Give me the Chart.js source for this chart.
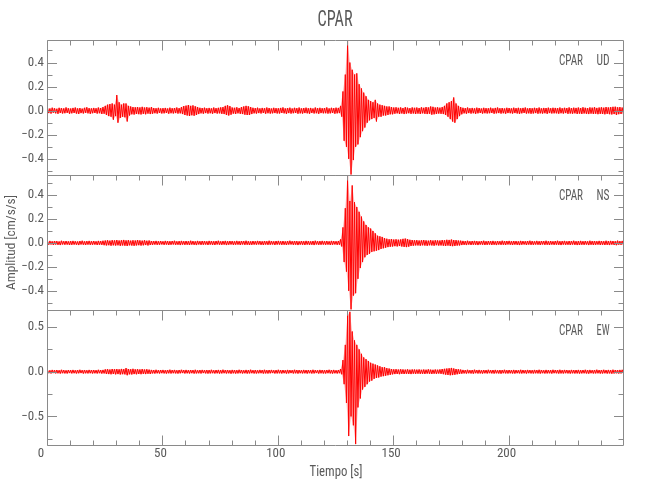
<!DOCTYPE html>
<html><head><meta charset="utf-8">
<script src="https://cdn.jsdelivr.net/npm/chart.js@4"></script>
<style>html,body{margin:0;padding:0;background:#fff;}canvas{display:block}</style>
</head><body>
<canvas id="c" width="650" height="500"></canvas>
<script>
const station = 'CPAR';
const components = ['UD', 'NS', 'EW'];
const titleX = 'Tiempo [s]';
const titleY = 'Amplitud [cm/s/s]';

// per-second envelope readings (max, min) of each trace, cm/s/s
const udHi = [
.022,.018,.025,.020,.016,.024,.021,.019,.027,.020, .018,.023,.026,.019,.022,.017,.024,.028,.021,.019,
.023,.020,.026,.022,.030,.040,.050,.055,.060,.050, .130,.070,.050,.060,.060,.040,.035,.030,.028,.030,
.027,.032,.026,.029,.025,.030,.022,.020,.024,.019, .021,.023,.018,.025,.020,.022,.026,.021,.030,.038,
.042,.047,.040,.044,.036,.030,.024,.022,.025,.020, .023,.019,.026,.021,.024,.027,.030,.040,.045,.038,
.026,.024,.028,.022,.030,.035,.040,.036,.030,.024, .021,.025,.019,.023,.020,.026,.022,.018,.024,.021,
.020,.023,.027,.019,.022,.025,.018,.024,.021,.026, .019,.022,.025,.020,.023,.018,.026,.021,.024,.020,
.022,.027,.019,.024,.021,.025,.023,.040,.160,.300, .585,.400,.340,.300,.310,.220,.185,.150,.120,.090,
.080,.070,.090,.060,.050,.045,.040,.035,.035,.030, .026,.028,.024,.027,.022,.029,.025,.021,.027,.024,
.026,.022,.028,.024,.030,.027,.035,.032,.026,.028, .025,.030,.040,.060,.070,.080,.110,.060,.040,.030,
.024,.021,.026,.020,.023,.019,.025,.022,.018,.024, .021,.020,.025,.019,.023,.026,.020,.022,.018,.024,
.022,.019,.025,.021,.024,.020,.023,.026,.019,.022, .020,.024,.021,.026,.019,.023,.022,.025,.020,.024,
.023,.021,.026,.020,.024,.022,.027,.021,.025,.023, .026,.022,.028,.024,.021,.027,.025,.029,.023,.026,
.028,.025,.030,.027,.029,.032,.033,.028,.030,.026];
const udLo = [
-.020,-.024,-.017,-.022,-.026,-.019,-.023,-.021,-.018,-.025, -.022,-.019,-.024,-.027,-.020,-.023,-.018,-.022,-.026,-.021,
-.019,-.024,-.021,-.027,-.025,-.035,-.045,-.050,-.075,-.045, -.100,-.060,-.050,-.055,-.090,-.040,-.030,-.032,-.027,-.029,
-.031,-.026,-.030,-.024,-.028,-.025,-.021,-.024,-.019,-.023, -.022,-.019,-.025,-.021,-.023,-.020,-.024,-.022,-.028,-.036,
-.040,-.044,-.038,-.042,-.035,-.028,-.022,-.025,-.020,-.024, -.021,-.025,-.020,-.024,-.022,-.026,-.028,-.036,-.040,-.033,
-.024,-.027,-.022,-.026,-.028,-.033,-.036,-.035,-.028,-.022, -.024,-.020,-.023,-.019,-.025,-.021,-.024,-.022,-.020,-.023,
-.023,-.019,-.022,-.026,-.020,-.024,-.021,-.019,-.025,-.022, -.024,-.020,-.022,-.025,-.019,-.023,-.021,-.026,-.020,-.022,
-.021,-.024,-.022,-.019,-.025,-.022,-.020,-.050,-.250,-.300, -.400,-.530,-.410,-.300,-.280,-.220,-.170,-.140,-.100,-.080,
-.070,-.060,-.090,-.050,-.050,-.040,-.040,-.035,-.030,-.030, -.025,-.022,-.027,-.023,-.028,-.024,-.021,-.026,-.023,-.027,
-.024,-.027,-.022,-.026,-.028,-.025,-.033,-.030,-.027,-.024, -.026,-.028,-.035,-.050,-.070,-.090,-.100,-.070,-.045,-.030,
-.022,-.025,-.020,-.024,-.021,-.026,-.022,-.019,-.024,-.021, -.023,-.021,-.019,-.025,-.022,-.020,-.024,-.021,-.025,-.020,
-.021,-.024,-.020,-.023,-.026,-.022,-.019,-.024,-.022,-.025, -.023,-.020,-.025,-.022,-.024,-.021,-.026,-.020,-.023,-.022,
-.022,-.025,-.021,-.024,-.020,-.026,-.023,-.025,-.022,-.027, -.024,-.027,-.023,-.026,-.028,-.024,-.027,-.025,-.029,-.026,
-.027,-.030,-.026,-.029,-.031,-.028,-.035,-.029,-.027,-.030];
const nsHi = [
.014,.017,.013,.016,.015,.012,.018,.014,.016,.013, .015,.017,.014,.012,.016,.018,.013,.015,.017,.014,
.016,.013,.017,.015,.018,.020,.022,.019,.023,.021, .024,.020,.022,.025,.021,.023,.019,.022,.020,.024,
.021,.019,.022,.018,.020,.016,.015,.017,.014,.016, .013,.017,.015,.014,.016,.018,.013,.015,.017,.014,
.016,.014,.018,.015,.013,.017,.014,.016,.015,.013, .017,.015,.014,.016,.018,.013,.015,.017,.014,.016,
.015,.013,.017,.014,.016,.015,.018,.014,.013,.016, .014,.017,.015,.013,.016,.014,.018,.015,.013,.016,
.017,.014,.016,.013,.015,.018,.014,.016,.015,.013, .016,.014,.017,.015,.013,.016,.018,.014,.015,.017,
.014,.016,.013,.017,.015,.014,.016,.030,.130,.290, .560,.350,.480,.340,.300,.260,.220,.180,.150,.130,
.120,.100,.080,.060,.055,.050,.040,.035,.030,.032, .028,.030,.027,.029,.034,.036,.032,.026,.024,.022,
.023,.020,.022,.024,.021,.019,.023,.020,.022,.021, .020,.024,.022,.026,.025,.028,.024,.023,.020,.019,
.017,.015,.018,.014,.016,.017,.015,.013,.016,.018, .014,.016,.015,.017,.013,.016,.014,.018,.015,.016,
.017,.014,.016,.015,.013,.017,.015,.014,.016,.018, .015,.013,.017,.014,.016,.015,.018,.014,.016,.013,
.016,.018,.014,.015,.017,.013,.016,.015,.018,.014, .015,.017,.014,.016,.013,.018,.015,.016,.014,.017,
.016,.014,.018,.015,.017,.016,.014,.019,.015,.017];
const nsLo = [
-.015,-.013,-.017,-.014,-.016,-.018,-.013,-.015,-.014,-.017, -.016,-.014,-.015,-.018,-.013,-.015,-.017,-.014,-.016,-.015,
-.014,-.017,-.015,-.016,-.019,-.021,-.019,-.023,-.020,-.022, -.020,-.024,-.021,-.023,-.025,-.020,-.022,-.024,-.021,-.019,
-.022,-.020,-.018,-.021,-.017,-.016,-.014,-.016,-.015,-.013, -.016,-.014,-.017,-.015,-.013,-.016,-.015,-.018,-.014,-.016,
-.015,-.017,-.014,-.016,-.018,-.013,-.016,-.015,-.014,-.017, -.014,-.016,-.017,-.013,-.015,-.016,-.014,-.018,-.015,-.013,
-.016,-.015,-.014,-.017,-.013,-.016,-.015,-.017,-.016,-.014, -.015,-.013,-.016,-.017,-.014,-.016,-.015,-.013,-.017,-.014,
-.014,-.016,-.015,-.017,-.014,-.013,-.016,-.015,-.018,-.014, -.015,-.017,-.014,-.016,-.015,-.018,-.013,-.016,-.015,-.014,
-.016,-.014,-.017,-.015,-.013,-.016,-.015,-.030,-.160,-.240, -.400,-.555,-.440,-.420,-.300,-.210,-.160,-.120,-.100,-.090,
-.075,-.070,-.065,-.060,-.050,-.045,-.040,-.035,-.032,-.030, -.027,-.029,-.026,-.030,-.033,-.035,-.031,-.025,-.023,-.021,
-.021,-.023,-.020,-.022,-.024,-.020,-.021,-.023,-.019,-.022, -.021,-.023,-.025,-.022,-.026,-.027,-.025,-.022,-.021,-.018,
-.016,-.018,-.014,-.017,-.015,-.016,-.018,-.014,-.015,-.017, -.016,-.014,-.017,-.015,-.018,-.014,-.016,-.015,-.017,-.013,
-.015,-.017,-.014,-.016,-.018,-.015,-.013,-.017,-.014,-.016, -.016,-.014,-.015,-.017,-.013,-.016,-.015,-.017,-.014,-.016,
-.015,-.016,-.018,-.014,-.016,-.015,-.017,-.014,-.016,-.018, -.017,-.015,-.016,-.014,-.018,-.015,-.017,-.016,-.014,-.017,
-.015,-.017,-.016,-.018,-.014,-.017,-.019,-.015,-.016,-.018];
const ewHi = [
.018,.015,.020,.017,.019,.016,.021,.018,.015,.019, .017,.020,.016,.018,.021,.017,.019,.016,.020,.018,
.019,.017,.021,.018,.020,.026,.028,.024,.030,.027, .029,.026,.031,.028,.040,.030,.027,.032,.026,.028,
.025,.029,.024,.027,.023,.020,.018,.021,.017,.019, .020,.017,.019,.022,.018,.020,.016,.019,.021,.018,
.020,.017,.019,.018,.021,.016,.019,.020,.017,.019, .018,.021,.016,.019,.020,.017,.022,.018,.019,.016,
.020,.018,.017,.021,.019,.016,.020,.018,.022,.017, .019,.016,.020,.018,.021,.017,.019,.020,.016,.018,
.021,.017,.019,.016,.020,.018,.017,.021,.019,.018, .016,.020,.018,.019,.017,.021,.018,.016,.020,.019,
.017,.019,.021,.018,.020,.016,.019,.030,.130,.300, .630,.670,.450,.350,.300,.250,.200,.160,.140,.120,
.100,.090,.080,.070,.060,.050,.050,.040,.035,.030, .026,.028,.024,.027,.025,.023,.026,.022,.025,.024,
.023,.025,.021,.024,.022,.026,.023,.021,.024,.022, .025,.030,.032,.035,.038,.042,.036,.030,.027,.024,
.020,.018,.021,.017,.019,.022,.018,.020,.016,.019, .018,.021,.017,.019,.020,.016,.019,.018,.021,.017,
.019,.017,.020,.018,.016,.021,.019,.017,.020,.018, .017,.020,.018,.021,.019,.016,.020,.018,.017,.021,
.019,.018,.021,.017,.020,.019,.016,.020,.018,.019, .020,.017,.019,.021,.018,.020,.017,.019,.022,.018,
.019,.021,.018,.020,.017,.022,.019,.018,.020,.021];
const ewLo = [
-.017,-.020,-.016,-.019,-.018,-.021,-.017,-.019,-.020,-.016, -.019,-.017,-.020,-.018,-.016,-.021,-.018,-.019,-.017,-.020,
-.018,-.020,-.017,-.021,-.019,-.025,-.027,-.029,-.026,-.030, -.027,-.031,-.028,-.030,-.040,-.029,-.031,-.027,-.029,-.026,
-.028,-.024,-.027,-.023,-.025,-.019,-.021,-.018,-.020,-.017, -.019,-.021,-.018,-.020,-.017,-.019,-.021,-.018,-.016,-.020,
-.018,-.020,-.017,-.021,-.019,-.018,-.020,-.016,-.019,-.021, -.019,-.017,-.020,-.018,-.021,-.019,-.017,-.020,-.018,-.022,
-.018,-.021,-.019,-.017,-.020,-.018,-.021,-.019,-.017,-.020, -.020,-.018,-.017,-.021,-.019,-.020,-.018,-.016,-.020,-.019,
-.018,-.020,-.017,-.021,-.019,-.016,-.020,-.018,-.021,-.017, -.019,-.018,-.021,-.017,-.020,-.019,-.016,-.021,-.018,-.020,
-.020,-.017,-.019,-.021,-.018,-.020,-.017,-.030,-.140,-.350, -.720,-.500,-.600,-.810,-.400,-.300,-.200,-.170,-.140,-.110,
-.100,-.080,-.070,-.065,-.055,-.050,-.045,-.040,-.035,-.030, -.027,-.025,-.028,-.024,-.026,-.023,-.025,-.027,-.022,-.024,
-.022,-.024,-.023,-.025,-.021,-.023,-.025,-.022,-.024,-.021, -.024,-.028,-.033,-.036,-.040,-.038,-.034,-.029,-.025,-.022,
-.019,-.021,-.018,-.020,-.022,-.017,-.020,-.019,-.021,-.018, -.020,-.017,-.019,-.021,-.018,-.020,-.022,-.017,-.019,-.020,
-.018,-.020,-.021,-.017,-.019,-.020,-.018,-.021,-.017,-.019, -.020,-.018,-.019,-.021,-.017,-.020,-.019,-.018,-.021,-.017,
-.018,-.021,-.019,-.020,-.017,-.019,-.021,-.018,-.020,-.019, -.021,-.019,-.018,-.020,-.022,-.017,-.020,-.019,-.018,-.021,
-.020,-.018,-.021,-.019,-.022,-.020,-.018,-.021,-.019,-.020];

// axis ranges and ticks
const xRange = [0, 249.6];
const xMajor = 50, xMinor = 10;
const yRanges = [[-0.534, 0.587], [-0.56, 0.567], [-0.82, 0.69]];
const yMajor = [0.2, 0.2, 0.5];
const yMinor = [0.1, 0.1, 0.25];

const seconds = udHi.map((_, i) => i);
const traces = [[udHi, udLo], [nsHi, nsLo], [ewHi, ewLo]];

function zigzag(hi, lo) {
  const pts = [];
  for (let i = 0; i < seconds.length; i++) {
    pts.push({x: seconds[i] + 0.25, y: hi[i]});
    pts.push({x: seconds[i] + 0.75, y: lo[i]});
  }
  return pts;
}
function envelope(vals, off) {
  return vals.map((v, i) => ({x: seconds[i] + off, y: v}));
}

const FONT = "'Liberation Sans Narrow','Roboto Condensed','Liberation Sans',Roboto,sans-serif";
const AXIS = '#8a8a8a';
const TEXT = '#5a5a5a';
const yIds = ['y0', 'y1', 'y2'];

function fitText(ctx, str, cx, cy, size, targetW, rot) {
  ctx.save();
  ctx.font = size + 'px ' + FONT;
  const w = ctx.measureText(str).width;
  ctx.translate(cx, cy);
  if (rot) ctx.rotate(rot);
  ctx.scale(targetW / w, 1);
  ctx.textAlign = 'center';
  ctx.textBaseline = 'middle';
  ctx.fillStyle = TEXT;
  ctx.fillText(str, 0, 0);
  ctx.restore();
}
function fmt(v) {
  if (Math.abs(v) < 1e-9) v = 0;
  return v.toFixed(1).replace('-', '\u2212');
}
function isMult(v, step) {
  return Math.abs(Math.round(v / step) * step - v) < 1e-6;
}
function stepValues(min, max, step) {
  const out = [];
  for (let j = Math.ceil(min / step - 1e-9); j * step <= max + 1e-9; j++) out.push(j * step);
  return out;
}

const framePlugin = {
  id: 'frame',
  afterDraw(chart) {
    const ctx = chart.ctx, a = chart.chartArea, xs = chart.scales.x;
    const L = Math.round(a.left) + 0.5, R = Math.round(a.right) + 0.5;
    ctx.save();
    ctx.strokeStyle = AXIS;
    ctx.lineWidth = 1;
    yIds.forEach((id, k) => {
      const s = chart.scales[id];
      const T = Math.round(s.top) + 0.5, B = Math.round(s.bottom) + 0.5;
      ctx.beginPath();
      ctx.rect(L, T, R - L, B - T);
      stepValues(s.min, s.max, yMinor[k]).forEach(v => {
        const len = isMult(v, yMajor[k]) ? 9.5 : 5;
        const py = Math.round(s.getPixelForValue(v)) + 0.5;
        ctx.moveTo(L, py); ctx.lineTo(L + len, py);
        ctx.moveTo(R, py); ctx.lineTo(R - len, py);
      });
      stepValues(xs.min, xs.max, xMinor).forEach(v => {
        const len = isMult(v, xMajor) ? 10 : 5;
        const px = Math.round(xs.getPixelForValue(v)) + 0.5;
        ctx.moveTo(px, T); ctx.lineTo(px, T + len);
        if (k === yIds.length - 1) { ctx.moveTo(px, B); ctx.lineTo(px, B - len); }
      });
      ctx.stroke();
      ctx.fillStyle = TEXT;
      ctx.font = '13px ' + FONT;
      ctx.textAlign = 'right';
      ctx.textBaseline = 'middle';
      stepValues(s.min, s.max, yMajor[k]).forEach(v => {
        ctx.fillText(fmt(v), a.left - 3, s.getPixelForValue(v));
      });
      const ly = s.top + 21;
      fitText(ctx, station, a.right - 52, ly, 14, 24);
      fitText(ctx, components[k], a.right - 20, ly, 14, 13);
    });
    ctx.fillStyle = TEXT;
    ctx.font = '13px ' + FONT;
    ctx.textAlign = 'center';
    ctx.textBaseline = 'middle';
    stepValues(xs.min, xs.max, xMajor).forEach(v => {
      const px = xs.getPixelForValue(v) - (v === 0 ? 6 : 2);
      ctx.fillText(String(Math.round(v)), px, a.bottom + 9);
    });
    const cx = (a.left + a.right) / 2;
    fitText(ctx, station, cx, 20.5, 22, 35);
    fitText(ctx, titleX, cx + 1, a.bottom + 27, 14, 53);
    fitText(ctx, titleY, 12, (a.top + a.bottom) / 2, 13.5, 95, -Math.PI / 2);
    ctx.restore();
  }
};

const scales = {
  x: {
    type: 'linear', min: xRange[0], max: xRange[1], position: 'bottom',
    ticks: {display: false},
    grid: {display: false, drawTicks: false}, border: {display: false},
    afterFit(s) { s.height = 55; }
  }
};
// stacked scales are laid out bottom-up, so add the lowest panel first
for (let k = yIds.length - 1; k >= 0; k--) {
  scales[yIds[k]] = {
    type: 'linear', position: 'left', stack: 'panels', stackWeight: 1,
    min: yRanges[k][0], max: yRanges[k][1],
    ticks: {display: false},
    grid: {display: false, drawTicks: false}, border: {display: false},
    afterFit(s) { s.width = 47; }
  };
}

const datasets = [];
traces.forEach((tr, k) => {
  datasets.push({
    label: station + ' ' + components[k],
    data: zigzag(tr[0], tr[1]), yAxisID: yIds[k],
    borderColor: '#ff0000', borderWidth: 1, pointRadius: 0, tension: 0, fill: false, order: 0
  });
  datasets.push({
    label: components[k] + ' max', data: envelope(tr[0], 0.25), yAxisID: yIds[k],
    borderWidth: 0, borderColor: 'rgba(0,0,0,0)', pointRadius: 0, tension: 0,
    fill: '+1', backgroundColor: 'rgba(255,0,0,0.28)', order: 1
  });
  datasets.push({
    label: components[k] + ' min', data: envelope(tr[1], 0.75), yAxisID: yIds[k],
    borderWidth: 0, borderColor: 'rgba(0,0,0,0)', pointRadius: 0, tension: 0,
    fill: false, order: 1
  });
});

new Chart(document.getElementById('c'), {
  type: 'line',
  data: {datasets},
  options: {
    responsive: false, animation: false, devicePixelRatio: 1,
    parsing: false, normalized: true,
    layout: {padding: {top: 40, right: 27, left: 0, bottom: 0}},
    plugins: {legend: {display: false}, tooltip: {enabled: false}, title: {display: false},
      filler: {propagate: false}},
    scales
  },
  plugins: [framePlugin]
});
</script>
</body></html>
